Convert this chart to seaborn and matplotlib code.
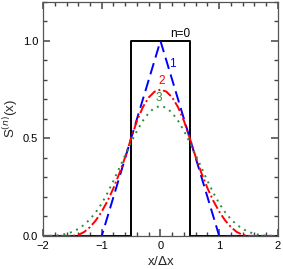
import matplotlib
matplotlib.use("Agg")
import matplotlib.pyplot as plt
import seaborn as sns
from matplotlib.ticker import MultipleLocator, FormatStrFormatter

# sample points
x_vals = [-2.0, -1.9, -1.8, -1.7, -1.6, -1.5, -1.4, -1.3, -1.2, -1.1, -1.0,
          -0.9, -0.8, -0.7, -0.6, -0.5, -0.4, -0.3, -0.2, -0.1, 0.0,
          0.1, 0.2, 0.3, 0.4, 0.5, 0.6, 0.7, 0.8, 0.9, 1.0,
          1.1, 1.2, 1.3, 1.4, 1.5, 1.6, 1.7, 1.8, 1.9, 2.0]

# n=0 box
x_n0 = [-2.0, -0.5, -0.5, 0.5, 0.5, 2.0]
s_n0 = [0.0, 0.0, 1.0, 1.0, 0.0, 0.0]

# n=1 triangle
x_n1 = [-2.0, -1.0, 0.0, 1.0, 2.0]
s_n1 = [0.0, 0.0, 1.0, 0.0, 0.0]

# n=2
s_n2 = [0.0, 0.0, 0.0, 0.0, 0.0, 0.0, 0.005, 0.02, 0.045, 0.08, 0.125,
        0.18, 0.245, 0.32, 0.405, 0.5, 0.59, 0.66, 0.71, 0.74, 0.75,
        0.74, 0.71, 0.66, 0.59, 0.5, 0.405, 0.32, 0.245, 0.18, 0.125,
        0.08, 0.045, 0.02, 0.005, 0.0, 0.0, 0.0, 0.0, 0.0, 0.0]

# n=3
s_n3 = [0.0, 0.0002, 0.0013, 0.0045, 0.0107, 0.0208, 0.036, 0.0572, 0.0853, 0.1215, 0.1667,
        0.2212, 0.2827, 0.3482, 0.4147, 0.4792, 0.5387, 0.5902, 0.6307, 0.6572, 0.6667,
        0.6572, 0.6307, 0.5902, 0.5387, 0.4792, 0.4147, 0.3482, 0.2827, 0.2212, 0.1667,
        0.1215, 0.0853, 0.0572, 0.036, 0.0208, 0.0107, 0.0045, 0.0013, 0.0002, 0.0]

sns.set_style("white")
plt.rcParams['font.family'] = ['Liberation Sans', 'DejaVu Sans']

fig = plt.figure(figsize=(2.83, 2.69), dpi=100)
ax = fig.add_axes([0.152, 0.123, 0.83, 0.870])

sns.lineplot(x=x_n0, y=s_n0, ax=ax, color='black', lw=1.4, sort=False, estimator=None)
sns.lineplot(x=x_n1, y=s_n1, ax=ax, color='blue', lw=1.4, sort=False, estimator=None)
ax.lines[-1].set_dashes([6, 3])
sns.lineplot(x=x_vals, y=s_n2, ax=ax, color='red', lw=1.4, sort=False, estimator=None)
ax.lines[-1].set_dashes([5, 1.5, 1, 1.5])
sns.lineplot(x=x_vals, y=s_n3, ax=ax, color='#2e8b3a', lw=1.4, sort=False, estimator=None)
ax.lines[-1].set_dashes([1, 2.5])

ax.text(0.5, 1.005, 'n=0', color='black', fontsize=8.5, ha='right', va='bottom')
ax.text(0.2, 0.88, '1', color='blue', fontsize=8.5, ha='center', va='center')
ax.text(0.02, 0.795, '2', color='red', fontsize=8.5, ha='center', va='center')
ax.text(-0.03, 0.705, '3', color='#2e8b3a', fontsize=8.5, ha='center', va='center')

ax.set_xlim(-2, 2)
ax.set_ylim(0, 1.2)
ax.xaxis.set_major_locator(MultipleLocator(1))
ax.xaxis.set_minor_locator(MultipleLocator(0.2))
ax.yaxis.set_major_locator(MultipleLocator(0.5))
ax.yaxis.set_minor_locator(MultipleLocator(0.1))
ax.yaxis.set_major_formatter(FormatStrFormatter('%.1f'))
ax.tick_params(which='major', direction='in', bottom=True, left=True, top=True, right=True,
               color='#444444', labelcolor='black', labelsize=8, length=5, width=1.1)
ax.tick_params(which='minor', direction='in', bottom=True, left=True, top=True, right=True,
               color='#444444', length=3, width=1.0)
for sp in ax.spines.values():
    sp.set_color('#555555')
    sp.set_linewidth(0.9)

ax.set_xlabel('x/$\\Delta$x', fontsize=9.5, labelpad=3)
ax.set_ylabel('S$^{(n)}$(x)', fontsize=9.5, labelpad=2)

fig.savefig('out.png', dpi=100)
